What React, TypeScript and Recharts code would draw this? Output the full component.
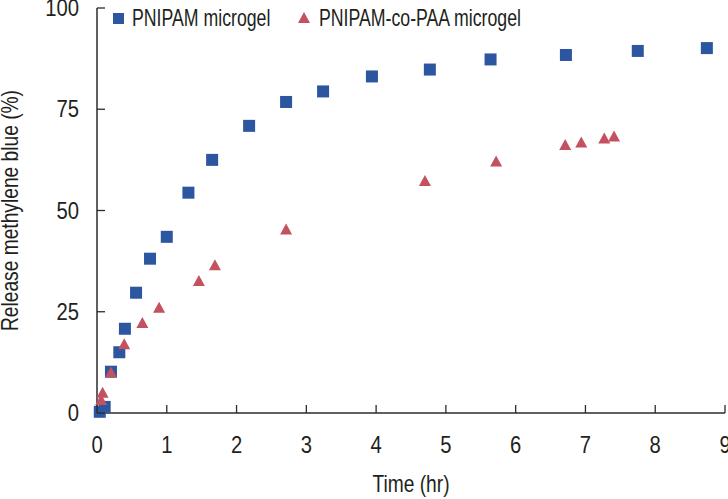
import { ScatterChart, Scatter, XAxis, YAxis, Legend } from 'recharts'

const xTicks = [0, 1, 2, 3, 4, 5, 6, 7, 8, 9]
const yTicks = [0, 25, 50, 75, 100]

const pnipamTime = [0.04, 0.11, 0.2, 0.32, 0.4, 0.56, 0.76, 1.0, 1.31, 1.65, 2.18, 2.71, 3.24, 3.94, 4.77, 5.64, 6.72, 7.75, 8.74]
const pnipamRelease = [0.3, 1.5, 10.2, 15, 20.8, 29.7, 38.1, 43.5, 54.4, 62.5, 70.9, 76.8, 79.4, 83.1, 84.8, 87.3, 88.4, 89.4, 90.1]

const copaaTime = [0.06, 0.08, 0.2, 0.39, 0.65, 0.89, 1.46, 1.69, 2.71, 4.7, 5.72, 6.71, 6.94, 7.27, 7.41]
const copaaRelease = [3.2, 5, 10, 17, 22.2, 26, 32.6, 36.5, 45.3, 57.3, 62.1, 66.2, 66.8, 67.8, 68.3]

const pnipamData = pnipamTime.map((t, i) => ({ time: t, release: pnipamRelease[i] }))
const copaaData = copaaTime.map((t, i) => ({ time: t, release: copaaRelease[i] }))

const BLUE = '#2C56A0'
const RED = '#C4515F'
const AXIS = '#2b2b2b'
const INK = '#231f20'
const FONT = '"Liberation Sans", Arial, sans-serif'

// condensed-looking text: normal font squeezed horizontally
const Narrow = ({ x, y, size, sx, anchor = 'start', rotate = 0, children }: any) => (
  <text
    transform={`translate(${x},${y}) rotate(${rotate}) scale(${sx},1)`}
    textAnchor={anchor}
    fontSize={size}
    fontFamily={FONT}
    fill={INK}
  >
    {children}
  </text>
)

const square = (props: any) => (
  <rect x={props.cx - 6} y={props.cy - 6} width={12} height={12} fill={BLUE} />
)

const triangle = (props: any) => (
  <polygon
    points={`${props.cx},${props.cy - 6} ${props.cx + 6},${props.cy + 5} ${props.cx - 6},${props.cy + 5}`}
    fill={RED}
  />
)

const XTick = (props: any) => {
  const { x, y, payload } = props
  return (
    <g>
      <line x1={x} y1={y} x2={x} y2={y - 8} stroke={AXIS} strokeWidth={1.3} />
      <Narrow x={x} y={y + 40} size={23} sx={0.88} anchor="middle">{payload.value}</Narrow>
    </g>
  )
}

const YTick = (props: any) => {
  const { x, y, payload } = props
  return (
    <g>
      <line x1={x} y1={y} x2={x + 8} y2={y} stroke={AXIS} strokeWidth={1.3} />
      <Narrow x={x - 18} y={y + 8} size={23} sx={0.88} anchor="end">{payload.value}</Narrow>
    </g>
  )
}

const YTitle = (props: any) => {
  const vb = props.viewBox
  return (
    <Narrow x={18} y={vb.y + vb.height / 2} size={24} sx={0.8} anchor="middle" rotate={-90}>
      Release methylene blue (%)
    </Narrow>
  )
}

const XTitle = (props: any) => {
  const vb = props.viewBox
  return (
    <Narrow x={vb.x + vb.width / 2} y={492} size={24} sx={0.8} anchor="middle">
      Time (hr)
    </Narrow>
  )
}

const LegendContent = () => (
  <svg width={460} height={34}>
    <rect x={1} y={8} width={11} height={11} fill={BLUE} />
    <Narrow x={20} y={21} size={23} sx={0.77}>PNIPAM microgel</Narrow>
    <polygon points="192,7 198,18 186,18" fill={RED} />
    <Narrow x={207} y={21} size={23} sx={0.77}>PNIPAM-co-PAA microgel</Narrow>
  </svg>
)

export default function App() {
  return (
    <div style={{ position: 'absolute', left: 0, top: 0, width: 728, height: 499, background: '#fff' }}>
      <ScatterChart width={728} height={499} margin={{ top: 8, right: 3, left: 0, bottom: 0 }}>
        <XAxis
          type="number"
          dataKey="time"
          domain={[0, 9]}
          ticks={xTicks}
          height={86}
          axisLine={{ stroke: AXIS, strokeWidth: 1.5 }}
          tickLine={false}
          tickSize={0}
          tickMargin={0}
          tick={<XTick />}
          interval={0}
          label={<XTitle />}
        />
        <YAxis
          type="number"
          dataKey="release"
          domain={[0, 100]}
          ticks={yTicks}
          width={97}
          axisLine={{ stroke: AXIS, strokeWidth: 1.5 }}
          tickLine={false}
          tickSize={0}
          tickMargin={0}
          tick={<YTick />}
          interval={0}
          label={<YTitle />}
        />
        <Legend
          layout="horizontal"
          verticalAlign="middle"
          align="center"
          content={<LegendContent />}
          wrapperStyle={{ top: 5, left: 112, width: 'auto', height: 'auto' }}
        />
        <Scatter name="PNIPAM microgel" data={pnipamData} shape={square} isAnimationActive={false} />
        <Scatter name="PNIPAM-co-PAA microgel" data={copaaData} shape={triangle} isAnimationActive={false} />
      </ScatterChart>
    </div>
  )
}
